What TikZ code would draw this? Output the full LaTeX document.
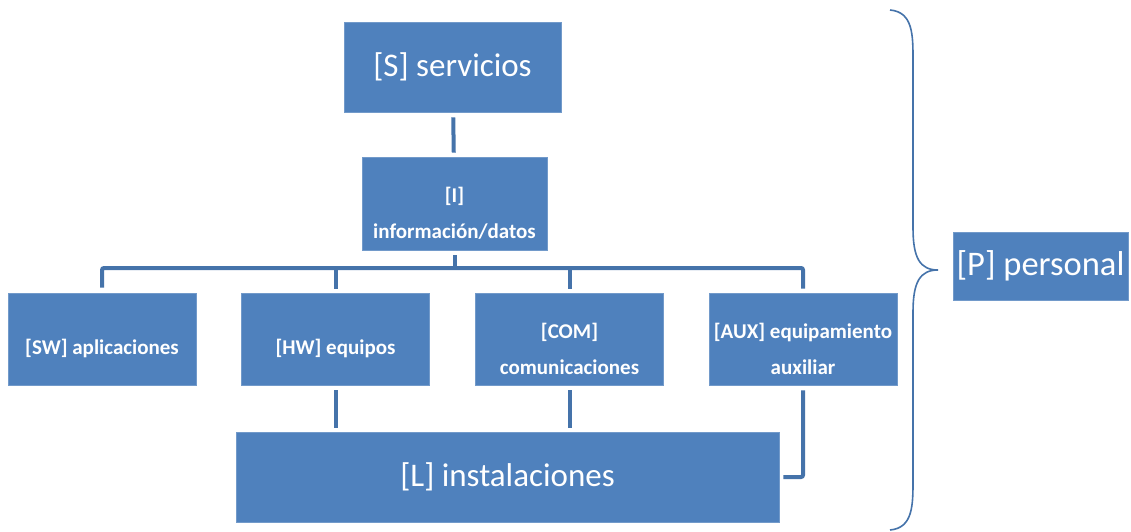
\documentclass[tikz,border=0pt]{standalone}
\usepackage{fontspec}
\setmainfont{Carlito}
\usepackage{tikz}

\definecolor{boxblue}{HTML}{4F81BD}
\definecolor{linkblue}{HTML}{4573AA}
% pushes the text of a small box a little down
\newcommand{\lift}{\rule{0pt}{35pt}}

\begin{document}
\begin{tikzpicture}[x=1pt,y=-1pt,
                    block/.style={fill=boxblue, draw=boxblue!80!white, line width=0.6pt, text=white, align=center, inner sep=0pt},
                    small/.style={block, minimum width=188pt, minimum height=92pt, font=\bfseries\fontsize{21}{36}\selectfont},
                    large/.style={block, font=\fontsize{33}{38}\selectfont},
                    link/.style={draw=linkblue, line width=4pt, rounded corners=2pt, shorten <=5pt, shorten >=4pt}]
                    \useasboundingbox (0,0) rectangle (1131,532);

                    \node[large, minimum width=217pt, minimum height=90pt] (serv) at (452.5,67) {[S] servicios};
                    \node[small, minimum width=185pt, minimum height=93pt] (info) at (454.5,203.5) {\lift[I]\\información/datos};

                    \node[small] (sw) at (102,339) {\lift[SW] aplicaciones};
                    \node[small] (hw) at (335.5,339) {\lift[HW] equipos};
                    \node[small] (com) at (569.5,339) {\lift[COM]\\comunicaciones};
                    \node[small] (aux) at (803,339) {\lift[AUX] equipamiento\\auxiliar};

                    \node[large, minimum width=543pt, minimum height=90pt] (inst) at (507.5,477) {[L] instalaciones};
                    \node[large, font=\fontsize{34.5}{38}\selectfont, minimum width=175pt, minimum height=68pt] (pers) at (1040.5,266) {[P] personal};

                    \coordinate (bus) at (454.5,268);
                    \draw[link] (serv) -- (info);
                    \draw[link, shorten >=0pt] (info) -- (bus);
                    \draw[link] (sw) |- (bus) -| (aux);
                    \draw[link, shorten <=0pt] (hw.north |- bus) -- (hw);
                    \draw[link, shorten <=0pt] (com.north |- bus) -- (com);

                    \draw[link] (hw) -- (hw.south |- inst.north);
                    \draw[link] (com) -- (com.south |- inst.north);
                    \draw[link] (aux) |- (inst);

                    % brace round the whole tree
                    \coordinate (btop) at (890,10);
                    \coordinate (btip) at (938,270);
                    \coordinate (bbot) at (890,530);
                    \draw[linkblue, line width=1.6pt] (btop) .. controls (913,12) and (913,35) .. (913,60)
                          -- (913,228) .. controls (913,258) and (920,270) .. (btip)
                          .. controls (920,270) and (913,282) .. (913,312)
                          -- (913,480) .. controls (913,505) and (913,528) .. (bbot);
                \end{tikzpicture}
\end{document}
